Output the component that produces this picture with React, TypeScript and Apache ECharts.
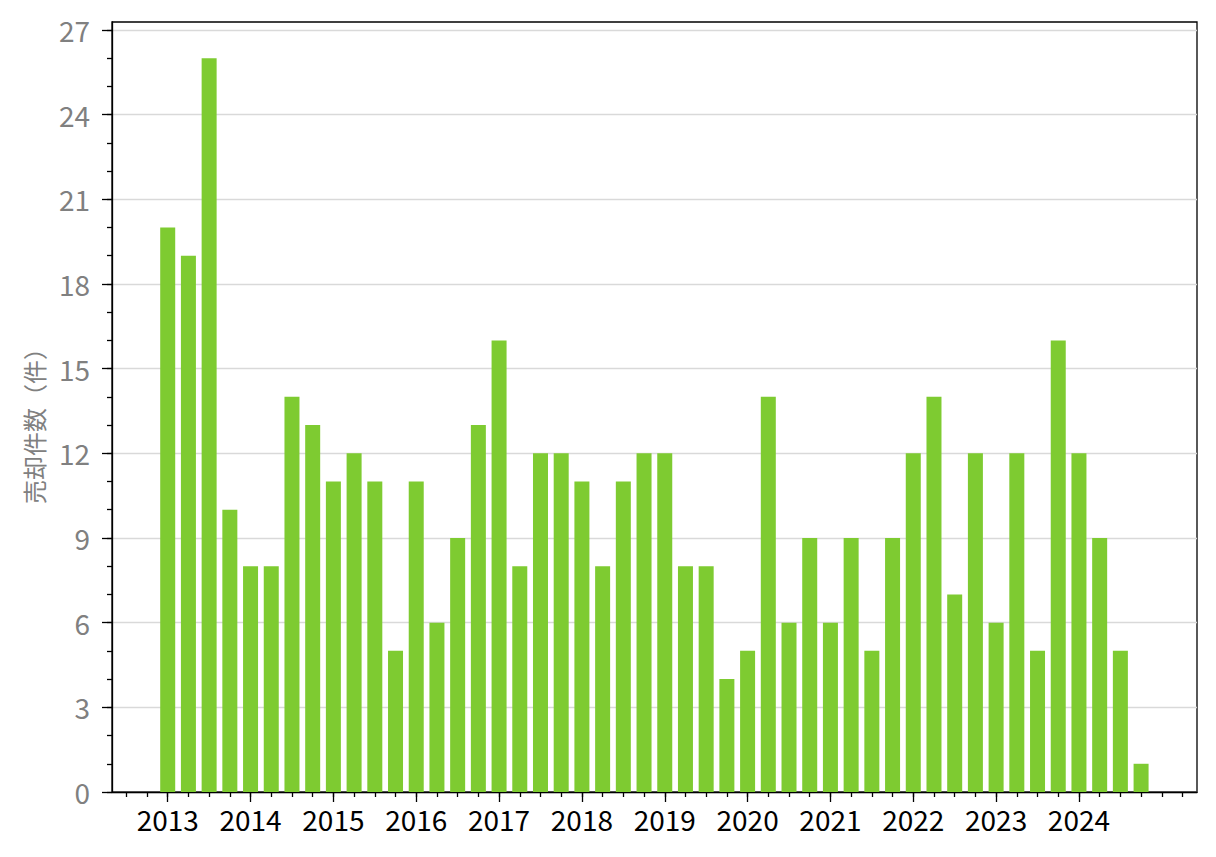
import React, { useEffect, useRef } from "react";
import * as echarts from "echarts";

const years = ["2013", "2014", "2015", "2016", "2017", "2018", "2019", "2020", "2021", "2022", "2023", "2024"];
const quarterlySales = [
  20, 19, 26, 10,
  8, 8, 14, 13,
  11, 12, 11, 5,
  11, 6, 9, 13,
  16, 8, 12, 12,
  11, 8, 11, 12,
  12, 8, 8, 4,
  5, 14, 6, 9,
  6, 9, 5, 9,
  12, 14, 7, 12,
  6, 12, 5, 16,
  12, 9, 5, 1,
];
const yAxisTitle = "売却件数（件）";
const yMajorTicks = [0, 3, 6, 9, 12, 15, 18, 21, 24, 27];
const yMinorTicks = Array.from({ length: 28 }, (_, i) => i);
const quarterTicks = Array.from({ length: 52 }, (_, i) => i - 2);
const yearTicks = years.map((_, i) => i * 4);

const X_MIN = -2.69;
const X_MAX = 49.7;
const Y_MAX = 27.28;
const FONT = '"Noto Sans CJK JP", "Noto Sans", sans-serif';

export default function App() {
  const ref = useRef<HTMLDivElement>(null);
  useEffect(() => {
    if (!ref.current) return;
    const chart = echarts.init(ref.current, null, { renderer: "svg" });
    const barData = quarterlySales.map((v, i) => [i, v]);
    chart.setOption({
      animation: false,
      textStyle: { fontFamily: FONT },
      grid: {
        left: 112,
        right: 19,
        top: 22,
        bottom: 65,
        show: true,
        borderColor: "#000",
        borderWidth: 1.3,
        backgroundColor: "transparent",
      },
      graphic: [
        {
          type: "text",
          x: 33,
          y: 420,
          rotation: Math.PI / 2,
          style: {
            text: yAxisTitle,
            fill: "#808080",
            fontSize: 24,
            fontFamily: FONT,
            textAlign: "center",
            textVerticalAlign: "middle",
          },
        },
      ],
      xAxis: [
        {
          type: "value",
          min: X_MIN,
          max: X_MAX,
          position: "bottom",
          axisLine: { show: true, onZero: false, lineStyle: { color: "#000", width: 1.3 } },
          axisTick: { show: true, length: 5, lineStyle: { color: "#000", width: 1.3 }, customValues: quarterTicks },
          axisLabel: { show: false },
          splitLine: { show: false },
        },
        {
          type: "value",
          min: X_MIN,
          max: X_MAX,
          position: "bottom",
          axisLine: { show: false, onZero: false },
          axisTick: { show: true, length: 10, lineStyle: { color: "#000", width: 1.3 }, customValues: yearTicks },
          axisLabel: {
            show: true,
            customValues: yearTicks,
            formatter: (v: number) => years[Math.round(v / 4)] ?? "",
            color: "#000",
            fontSize: 28,
            fontFamily: FONT,
            margin: 13,
          },
          splitLine: { show: false },
        },
      ],
      yAxis: [
        {
          type: "value",
          min: 0,
          max: Y_MAX,
          position: "left",
          axisLine: { show: true, onZero: false, lineStyle: { color: "#000", width: 1.3 } },
          axisTick: { show: true, length: 10, lineStyle: { color: "#000", width: 1.3 }, customValues: yMajorTicks },
          axisLabel: {
            show: true,
            customValues: yMajorTicks,
            color: "#808080",
            fontSize: 28,
            fontFamily: FONT,
            margin: 22,
          },
          splitLine: { show: true, lineStyle: { color: "#d9d9d9", width: 1.3 } },
        },
        {
          type: "value",
          min: 0,
          max: Y_MAX,
          position: "left",
          axisLine: { show: false, onZero: false },
          axisTick: { show: true, length: 5, lineStyle: { color: "#000", width: 1.3 }, customValues: yMinorTicks },
          axisLabel: { show: false },
          splitLine: { show: false },
        },
      ],
      series: [
        {
          type: "bar",
          xAxisIndex: 0,
          yAxisIndex: 0,
          data: barData,
          barWidth: 15,
          itemStyle: { color: "#7ecb31" },
        },
      ],
    });
    return () => chart.dispose();
  }, []);
  return <div ref={ref} style={{ width: 1216, height: 857, position: "absolute", left: 0, top: 0 }} />;
}
